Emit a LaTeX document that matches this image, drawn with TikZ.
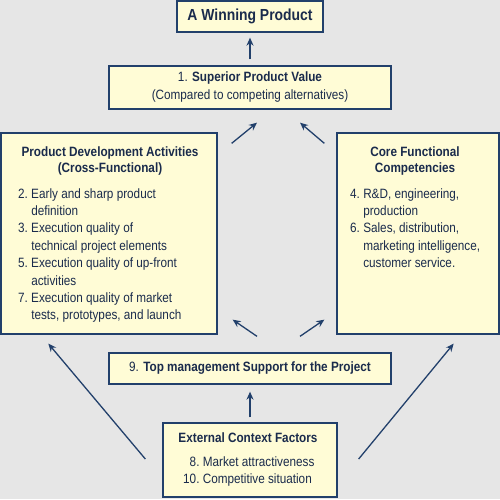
\documentclass[tikz,border=0pt]{standalone}
\usepackage{fontspec}
\setmainfont{Liberation Sans}[FakeStretch=0.87]
\usetikzlibrary{arrows.meta,positioning,calc}
\definecolor{bggray}{HTML}{E6E6E6}
\definecolor{cream}{HTML}{FFFCD6}
\definecolor{navy}{HTML}{22406B}
\definecolor{ink}{HTML}{1A2B4C}
\tikzset{
  box/.style={draw=navy,fill=cream,line width=1.3pt,inner sep=0pt,text=ink,
    font=\fontsize{13.5}{17.4}\selectfont},
  txt/.style={inner sep=0pt,text=ink,font=\fontsize{13.5}{17.4}\selectfont},
  arr/.style={navy,line width=1.3pt,-{Stealth[length=8pt,width=7pt]}}
}

\begin{document}
\begin{tikzpicture}[x=1pt,y=-1pt]
  \fill[bggray] (0,0) rectangle (500,499);
  \useasboundingbox (0,0) rectangle (500,499);
  % boxes
  \node[box,minimum width=146pt,minimum height=31pt,
    font=\fontsize{16}{19}\selectfont\bfseries] (win) at (250,16.5) {A Winning Product};
  \node[box,minimum width=282pt,minimum height=43pt,align=center,
    font=\fontsize{13.5}{18}\selectfont] (value) at (250,87.5)
    {1. \textbf{Superior Product Value}\\(Compared to competing alternatives)};
  \node[box,minimum width=216pt,minimum height=201pt] (pda) at (109,233.5) {};
  \node[box,minimum width=162pt,minimum height=201pt] (core) at (418,233.5) {};
  \node[box,minimum width=282pt,minimum height=31pt] (top) at (250,368.5)
    {9. \textbf{Top management Support for the Project}};
  \node[box,minimum width=174pt,minimum height=74pt] (ext) at (250,460) {};
  % texts inside the big boxes
  \node[txt,align=center,font=\fontsize{13.5}{15.7}\selectfont\bfseries] (pdahead) at (110,161)
    {Product Development Activities\\(Cross-Functional)};
  \node[txt,anchor=north west] (pdalist) at (18,185.8) {%
    \begin{tabular}{@{}l@{\ }l@{}}
      2. & Early and sharp product\\
         & definition\\
      3. & Execution quality of\\
         & technical project elements\\
      5. & Execution quality of up-front\\
         & activities\\
      7. & Execution quality of market\\
         & tests, prototypes, and launch
    \end{tabular}};
  \node[txt,align=center,font=\fontsize{13.5}{15.7}\selectfont\bfseries] (corehead) at (415,161)
    {Core Functional\\Competencies};
  \node[txt,anchor=north west] (corelist) at (350,185.8) {%
    \begin{tabular}{@{}l@{\ }l@{}}
      4. & R\&D, engineering,\\
         & production\\
      6. & Sales, distribution,\\
         & marketing intelligence,\\
         & customer service.
    \end{tabular}};
  \node[txt,font=\fontsize{13.5}{17}\selectfont\bfseries] (exthead) at (248,438) {External Context Factors};
  \node[txt,anchor=north west,font=\fontsize{13.5}{17}\selectfont] (extlist) at (183,454.8) {%
    \begin{tabular}{@{}r@{\ }l@{}}
      8. & Market attractiveness\\
      10. & Competitive situation
    \end{tabular}};
  % arrows
  \draw[arr,shorten <=6pt,shorten >=5pt] (value.north) -- (win.south);
  \draw[arr] ([shift={(14,11)}]pda.north east) -- ([shift={(7,13)}]value.south);
  \draw[arr] ([shift={(-12,11)}]core.north west) -- ([shift={(50,13)}]value.south);
  \draw[arr] ([shift={(7,-16)}]top.north) -- ([shift={(15,-15)}]pda.south east);
  \draw[arr] ([shift={(50,-16)}]top.north) -- ([shift={(-12,-15)}]core.south west);
  \draw[arr,shorten <=5pt,shorten >=7pt] (ext.north) -- (top.south);
  \draw[arr] ([shift={(-17,-1)}]ext.west) -- ([shift={(48,9)}]pda.south west);
  \draw[arr] ([shift={(21,-1)}]ext.east) -- ([shift={(-46,9)}]core.south east);
\end{tikzpicture}
\end{document}
